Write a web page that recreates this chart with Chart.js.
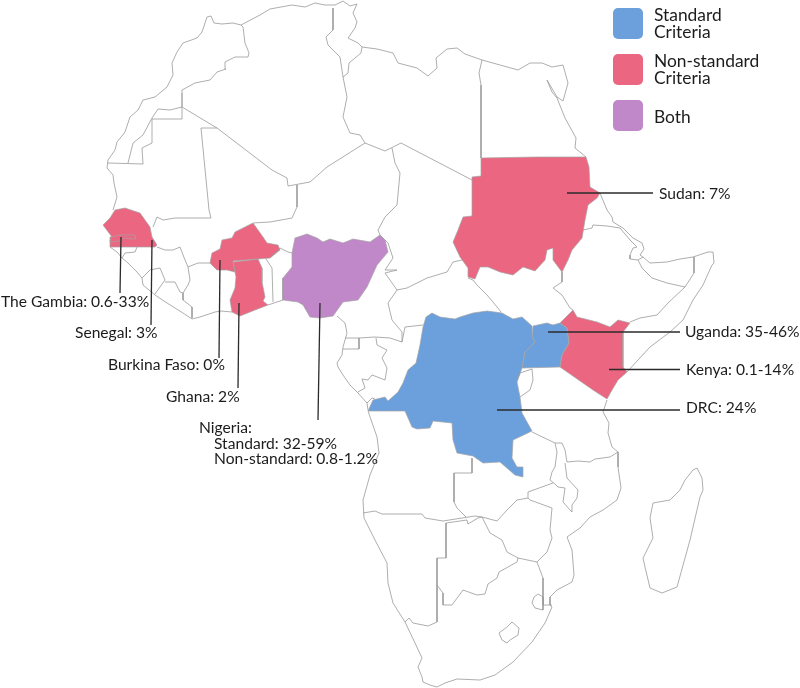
<!DOCTYPE html>
<html><head><meta charset="utf-8">
<style>html,body{margin:0;padding:0;background:#fff}canvas{display:block}</style>
<script src="https://cdn.jsdelivr.net/npm/chart.js@4"></script>
</head><body><canvas id="c" width="800" height="688"></canvas>
<script>
// Filled countries (map coordinates)
const sudan=[[481,158],[537,157],[586,157],[589,167],[590,187],[600,193],[597,198],[588,205],[585,220],[582,238],[572,250],[568,260],[562,272],[553,260],[553,248],[547,250],[545,260],[535,271],[523,267],[513,275],[500,272],[488,267],[480,267],[475,279],[468,277],[468,268],[460,257],[453,242],[458,230],[463,217],[472,216],[472,177],[481,176],[481,158]];
const kenya=[[573,310],[577,317],[597,322],[610,327],[618,320],[630,323],[623,332],[623,367],[627,372],[618,380],[612,390],[607,399],[593,390],[560,367],[562,355],[569,343],[567,328],[560,323],[573,310]];
const uganda=[[560,323],[553,325],[547,323],[533,326],[532,337],[535,342],[525,352],[522,368],[560,367],[562,355],[569,343],[567,328],[560,323]];
const drc=[[532,326],[522,317],[513,319],[502,313],[487,311],[473,313],[460,317],[455,319],[440,317],[432,313],[426,317],[423,327],[420,345],[416,363],[408,370],[403,383],[398,392],[388,401],[385,397],[373,400],[368,411],[405,411],[412,427],[417,429],[430,428],[433,421],[452,423],[453,440],[457,453],[473,456],[483,463],[500,462],[515,475],[523,477],[523,467],[517,467],[512,458],[513,440],[532,431],[522,413],[520,397],[517,382],[522,368],[525,352],[535,342],[532,337],[532,326]];
const nigeria=[[295,238],[307,234],[317,238],[323,242],[330,239],[343,243],[353,239],[370,242],[380,235],[385,240],[388,252],[377,265],[367,287],[358,300],[343,302],[333,316],[320,318],[310,317],[303,305],[298,302],[283,300],[283,278],[292,267],[292,253],[295,238]];
const ghana=[[233,262],[258,259],[262,268],[262,282],[265,297],[263,301],[268,305],[255,310],[240,316],[232,312],[230,300],[235,288],[236,277],[233,262]];
const burkina=[[210,263],[212,253],[220,249],[222,240],[232,238],[235,232],[253,223],[263,237],[267,243],[278,245],[280,250],[270,258],[258,259],[233,261],[235,272],[227,270],[217,270],[210,263]];
const senegal=[[115,210],[125,208],[140,213],[150,227],[152,237],[157,245],[155,247],[145,247],[135,247],[123,247],[110,247],[110,240],[112,237],[103,225],[110,218],[115,210]];
const gambia=[[110,237],[120,235],[135,235],[136,239],[123,238],[120,241],[110,242],[110,237]];

// Other borders
const moroccoCoast=[[241,25],[233,23],[222,24],[214,23],[211,16],[207,17],[202,32],[197,38],[183,43],[177,52],[172,63],[173,75],[167,87],[155,97],[143,100],[138,110],[130,117],[125,132],[117,142],[115,150],[108,160],[107,168]];
const westSaharaSouth=[[108,163],[143,164],[142,148],[152,143],[152,119],[182,119],[182,93]];
const moroccoSouth=[[182,107],[170,110],[158,109],[152,118],[143,135],[133,143],[128,163]];
const moroccoAlgeria=[[182,107],[182,90],[195,83],[210,80],[217,72],[226,69],[225,62],[235,57],[248,57],[249,53],[245,43],[243,27],[241,25]];
const algeriaCoast=[[241,25],[260,15],[270,9],[292,5],[305,7],[315,3],[325,5],[335,5],[343,1],[350,6],[357,4],[353,13],[357,22],[355,28],[348,38],[358,43],[362,47],[377,49],[393,53],[398,63],[417,68],[428,76],[437,68],[436,58],[447,49],[457,48],[465,54],[482,60]];
const tunisiaAlgeria=[[333,8],[333,30],[326,37],[328,45],[340,57],[343,77]];
const tunisiaLibya=[[343,77],[348,73],[349,63],[361,53],[362,47]];
const algeriaLibya=[[343,77],[347,97],[343,117],[350,133],[360,135],[365,143]];
const algeriaSouth=[[365,143],[327,167],[310,182],[288,186],[287,178],[272,170],[217,128],[182,107]];
const mauritaniaMali=[[217,128],[201,128],[209,210],[211,218],[175,218],[163,220],[157,217],[153,227]];
const mauritaniaCoast=[[107,168],[113,175],[114,183],[117,197],[113,210]];
const maliNiger=[[297,185],[297,207],[292,218],[270,222],[253,223]];
const libyaEgypt=[[482,60],[479,73],[481,85],[481,158]];
const libyaChad=[[472,180],[401,143],[385,151],[365,143]];
const nigerChad=[[392,148],[395,163],[400,173],[397,205],[385,217],[378,230],[380,235]];
const chadCameroon=[[380,235],[388,243],[393,258],[385,270],[397,270],[385,273],[397,290]];
const chadCar=[[397,290],[407,288],[427,278],[447,272],[453,262],[462,260]];
const egyptCoast=[[482,60],[500,65],[518,70],[530,63],[542,63],[552,67],[563,65],[568,83],[563,101],[557,97],[547,80],[552,92],[557,98],[565,118],[576,138],[575,148],[586,157]];
const redSeaCoast=[[600,193],[607,210],[612,217],[613,222],[623,228],[633,238],[642,243],[644,249],[640,255],[643,257],[650,263],[667,262],[680,259],[693,257],[708,252],[713,252],[714,263],[712,265],[703,285],[693,300],[683,320],[670,332],[650,347],[638,360],[627,372]];
const eritreaEthiopia=[[583,230],[592,228],[593,225],[607,226],[620,228],[630,240],[637,247]];
const djibouti=[[637,247],[633,248],[630,255],[630,259],[638,260],[643,257]];
const somaliaEthiopia=[[638,260],[642,268],[652,278],[667,283],[685,287],[668,303],[657,315],[640,318],[630,322]];
const somaliland=[[694,257],[694,273],[685,287]];
const rwandaBurundi=[[517,380],[520,373],[532,369],[533,380],[530,390],[520,397]];
const tanzaniaCoast=[[607,400],[603,412],[609,423],[608,433],[612,447],[618,452]];
const tanzaniaSouth=[[618,452],[610,457],[595,459],[590,462],[578,461],[567,462]];
const tanzaniaZambia=[[567,462],[565,450],[562,443],[555,443],[532,432]];
const malawi=[[555,443],[557,452],[555,467],[552,472],[550,480],[555,484],[558,487],[565,488],[563,502],[570,510],[572,512],[572,505],[577,498],[578,490],[567,478],[565,463]];
const mozambiqueCoast=[[618,452],[618,467],[621,488],[617,500],[603,510],[590,517],[580,528],[567,537],[572,550],[574,575],[572,582],[557,590],[550,597],[550,605],[552,607]];
const southAfricaCoast=[[552,607],[545,623],[532,642],[513,662],[495,675],[480,680],[457,679],[445,683],[437,687],[430,685],[423,682],[422,677],[418,667],[422,658],[415,643],[405,622]];
const westCoast=[[405,622],[393,603],[388,583],[387,563],[375,540],[364,518],[363,500],[370,475],[379,453],[377,437],[368,411]];
const angolaNamibia=[[363,513],[375,511],[382,514],[422,514],[425,518],[443,521],[475,516],[482,517]];
const angolaZambia=[[472,458],[472,473],[454,473],[454,502],[457,508],[466,517]];
const namibia=[[446,523],[446,558],[437,558],[437,622],[428,626],[413,623],[409,618],[405,622]];
const namibiaBotswana=[[446,523],[467,520],[468,524],[478,518],[482,517]];
const botswanaSa=[[437,585],[443,593],[443,605],[452,605],[463,590],[477,595],[485,594],[488,584],[497,578],[499,572],[517,562],[518,558]];
const botswanaZim=[[482,517],[490,533],[502,540],[507,552],[518,558],[537,562]];
const zimMoz=[[537,562],[547,552],[552,538],[550,530],[552,508],[530,500]];
const zambiaZim=[[482,517],[497,521],[507,510],[517,500],[528,498],[528,492],[553,483]];
const zambiaMoz=[[528,498],[530,500]];
const saMoz=[[537,562],[543,578],[543,605],[552,605]];
const eswatini=[[538,594],[543,597],[543,610],[535,608],[532,603],[534,597],[538,594]];
const lesotho=[[512,622],[519,628],[518,635],[510,640],[507,643],[502,640],[499,633],[507,627],[512,622]];
const madagascar=[[697,468],[702,478],[703,490],[700,497],[690,540],[677,587],[662,593],[650,588],[645,567],[643,558],[653,538],[650,518],[653,503],[670,500],[680,490],[685,480],[693,470],[697,468]];
const gabonCoast=[[337,316],[345,323],[347,333],[343,347],[342,355],[337,363],[338,367],[343,375],[350,385],[358,393],[367,403],[368,410]];
const eqGuinea=[[345,338],[359,338],[359,349],[343,349]];
const cameroonSouth=[[359,338],[375,337],[390,338],[402,342]];
const gabon=[[376,338],[377,345],[387,350],[382,358],[387,368],[385,380],[380,378],[372,375],[368,380],[362,379],[365,388],[358,392]];
const congoNorth=[[402,342],[405,327],[423,325]];
const cameroonCar=[[402,342],[402,332],[392,320],[388,303],[397,290]];
const cabinda=[[367,403],[372,398],[375,399]];
const carSouthSudan=[[468,278],[473,280],[477,285],[487,295],[493,302],[501,312]];
const southSudanEthiopia=[[562,272],[562,282],[553,288],[562,295],[570,308],[573,310]];
const benin=[[280,248],[288,252],[292,253]];
const beninEast=[[283,278],[283,300]];
const togo=[[266,259],[272,268],[273,302]];
const togoBenin=[[270,258],[280,248]];
const guineaBissau=[[110,247],[117,252],[122,258],[125,253],[135,252],[137,247]];
const guineaCoast=[[122,258],[128,263],[137,272],[142,278],[143,285],[155,295],[167,303],[183,313],[192,319],[200,317],[215,312],[221,311],[232,312]];
const beninCoast=[[268,305],[283,300]];
const guineaMali=[[157,247],[165,250],[173,250],[180,247],[185,260],[188,267],[198,263],[210,263]];
const guineaCi=[[188,267],[190,280],[188,285],[183,293]];
const liberiaTop=[[165,282],[175,282],[180,292],[183,293]];
const sierraLeone=[[142,278],[150,270],[160,268],[165,280],[155,294]];
const liberiaCi=[[183,293],[183,300],[192,307],[192,318]];

const fills=[
 {pts:sudan,c:'#eb6680'},{pts:kenya,c:'#eb6680'},{pts:uganda,c:'#6ca0dc'},{pts:drc,c:'#6ca0dc'},
 {pts:nigeria,c:'#c088c8'},{pts:ghana,c:'#eb6680'},{pts:burkina,c:'#eb6680'},{pts:senegal,c:'#eb6680'},{pts:gambia,c:'#eb6680'}];
const borders=[moroccoCoast,westSaharaSouth,moroccoSouth,moroccoAlgeria,algeriaCoast,tunisiaAlgeria,tunisiaLibya,algeriaLibya,algeriaSouth,mauritaniaMali,mauritaniaCoast,maliNiger,libyaEgypt,libyaChad,nigerChad,chadCameroon,chadCar,egyptCoast,redSeaCoast,eritreaEthiopia,djibouti,somaliaEthiopia,somaliland,rwandaBurundi,tanzaniaCoast,tanzaniaSouth,tanzaniaZambia,malawi,mozambiqueCoast,southAfricaCoast,westCoast,angolaNamibia,angolaZambia,namibia,namibiaBotswana,botswanaSa,botswanaZim,zimMoz,zambiaZim,zambiaMoz,saMoz,eswatini,lesotho,madagascar,gabonCoast,eqGuinea,cameroonSouth,gabon,congoNorth,cameroonCar,cabinda,carSouthSudan,southSudanEthiopia,benin,beninEast,togo,togoBenin,guineaBissau,guineaCoast,beninCoast,guineaMali,guineaCi,liberiaTop,sierraLeone,liberiaCi];

// Leader lines
const leaders=[
 [[567,193],[653,193]],[[548,332],[680,332]],[[609,369.5],[680,369.5]],[[497,410],[680,410]],
 [[121,237],[120,293]],[[152,240],[151,325]],[[220,260],[219,358]],[[239,303],[238,388]],[[320,303],[318,420]]];

// Labels
const labelTexts=['Sudan: 7%','Uganda: 35-46%','Kenya: 0.1-14%','DRC: 24%','The Gambia: 0.6-33%','Senegal: 3%','Burkina Faso: 0%','Ghana: 2%','Nigeria:','Standard: 32-59%','Non-standard: 0.8-1.2%'];
const labelX=[659,685,686,686,1,75,108,166,199,214,214];
const labelY=[194,332,370,408,302,333,365,397,428,444,459];
const legendNames=[['Standard','Criteria'],['Non-standard','Criteria'],['Both']];
const legendColors=['#6ca0dc','#eb6680','#c088c8'];
const legendTop=[8,54,100];

const polygonFill={id:'polygonFill',beforeDatasetsDraw(chart){
  const ctx=chart.ctx;
  chart.data.datasets.forEach((d,i)=>{
    if(!d.polyColor)return;
    const pts=chart.getDatasetMeta(i).data;
    ctx.save();ctx.beginPath();
    pts.forEach((p,j)=>j?ctx.lineTo(p.x,p.y):ctx.moveTo(p.x,p.y));
    ctx.closePath();ctx.fillStyle=d.polyColor;ctx.fill();ctx.restore();
  });
}};
const textLayer={id:'textLayer',afterDatasetsDraw(chart){
  const ctx=chart.ctx;ctx.save();
  ctx.textBaseline='middle';ctx.textAlign='left';ctx.fillStyle='#1c1c1c';
  ctx.font='15.6px Lato';
  labelTexts.forEach((t,i)=>ctx.fillText(t,labelX[i],labelY[i]));
  legendNames.forEach((lines,i)=>{
    ctx.fillStyle=legendColors[i];
    ctx.beginPath();ctx.roundRect(613,legendTop[i],30,31,5);ctx.fill();
    ctx.fillStyle='#1c1c1c';ctx.font='17.4px Lato';
    const cy=legendTop[i]+15.5;
    if(lines.length===2){ctx.fillText(lines[0],654,cy-8);ctx.fillText(lines[1],654,cy+9);}
    else ctx.fillText(lines[0],654,cy+2);
  });
  ctx.restore();
}};

const ds=[];
leaders.forEach(l=>ds.push({data:l,showLine:true,borderColor:'#2b2b2b',borderWidth:1.3,pointRadius:0,order:0}));
fills.forEach(f=>ds.push({data:f.pts,showLine:true,polyColor:f.c,borderColor:'#a3a3a3',borderWidth:0.7,pointRadius:0,order:1}));
borders.forEach(b=>ds.push({data:b,showLine:true,borderColor:'#999999',borderWidth:0.8,pointRadius:0,order:2}));

new Chart(document.getElementById('c'),{type:'scatter',data:{datasets:ds},
 plugins:[polygonFill,textLayer],
 options:{responsive:false,animation:false,layout:{padding:0},
  plugins:{legend:{display:false},tooltip:{enabled:false}},
  scales:{x:{type:'linear',min:0,max:800,display:false},y:{type:'linear',min:0,max:688,reverse:true,display:false}}}});
</script></body></html>
